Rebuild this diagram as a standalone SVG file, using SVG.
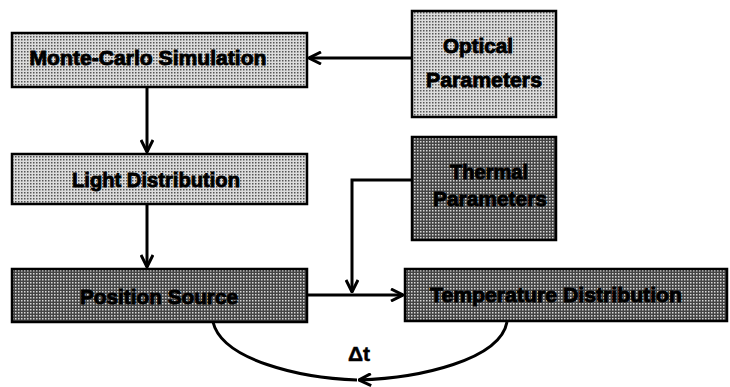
<svg xmlns="http://www.w3.org/2000/svg" width="730" height="387" viewBox="0 0 730 387">
<style>
.box{stroke:#000;stroke-width:2.5}
.light{fill:url(#pLight)}
.dark{fill:url(#pDark)}
.lbl{font-family:"Liberation Sans",Arial,sans-serif;font-weight:bold;font-size:21px;fill:#000;text-anchor:middle;stroke:#000;stroke-width:0.9}
.conn{fill:none;stroke:#000;stroke-width:3}
</style>
<defs>
<pattern id="pLight" width="3" height="3" patternUnits="userSpaceOnUse">
<rect width="3" height="3" fill="#dcdcdc"/>
<rect x="0" y="0" width="1.5" height="1.5" fill="#555"/>
</pattern>
<pattern id="pDark" width="3" height="3" patternUnits="userSpaceOnUse">
<rect width="3" height="3" fill="#444"/>
<rect x="0" y="0" width="1.5" height="1.5" fill="#d8d8d8"/>
</pattern>
<marker id="chev" viewBox="0 0 14 14" refX="13" refY="7" markerWidth="14" markerHeight="14" markerUnits="userSpaceOnUse" orient="auto">
<path d="M1,1 L13,7 L1,13" fill="none" stroke="#000" stroke-width="3" stroke-linejoin="miter"/>
</marker>
</defs>
<g id="connectors">
<line class="conn" x1="412" y1="58" x2="309" y2="58" marker-end="url(#chev)"/>
<line class="conn" x1="147" y1="87" x2="147" y2="152" marker-end="url(#chev)"/>
<line class="conn" x1="147" y1="204" x2="147" y2="267" marker-end="url(#chev)"/>
<polyline class="conn" points="412,180 352,180 352,292" marker-end="url(#chev)"/>
<line class="conn" x1="307" y1="295" x2="403" y2="295" marker-end="url(#chev)"/>
<path class="conn" d="M213,322 C222,360 300,378 357,380"/>
<path class="conn" d="M507,322 C500,360 420,378 359,380" marker-end="url(#chev)"/>
<text class="lbl" x="359" y="361" style="stroke-width:0.5">Δt</text>
</g>
<g id="monte-carlo">
<rect class="box light" x="12" y="33" width="295" height="54"/>
<text class="lbl" x="148" y="65" textLength="237" lengthAdjust="spacingAndGlyphs">Monte-Carlo Simulation</text>
</g>
<g id="light-distribution">
<rect class="box light" x="12" y="154" width="295" height="50"/>
<text class="lbl" x="156" y="187" textLength="168" lengthAdjust="spacingAndGlyphs">Light Distribution</text>
</g>
<g id="position-source">
<rect class="box dark" x="12" y="269" width="295" height="53"/>
<text class="lbl" x="159" y="304" textLength="158" lengthAdjust="spacingAndGlyphs">Position Source</text>
</g>
<g id="optical-parameters">
<rect class="box light" x="412" y="11" width="144" height="106"/>
<text class="lbl" x="478" y="53" textLength="70" lengthAdjust="spacingAndGlyphs">Optical</text>
<text class="lbl" x="484" y="87" textLength="116" lengthAdjust="spacingAndGlyphs">Parameters</text>
</g>
<g id="thermal-parameters">
<rect class="box dark" x="412" y="137" width="144" height="103"/>
<text class="lbl" x="489" y="179" textLength="78" lengthAdjust="spacingAndGlyphs">Thermal</text>
<text class="lbl" x="490" y="206" textLength="114" lengthAdjust="spacingAndGlyphs">Parameters</text>
</g>
<g id="temperature-distribution">
<rect class="box dark" x="405" y="269" width="322" height="52"/>
<text class="lbl" x="556" y="302" textLength="252" lengthAdjust="spacingAndGlyphs">Temperature Distribution</text>
</g>
</svg>
